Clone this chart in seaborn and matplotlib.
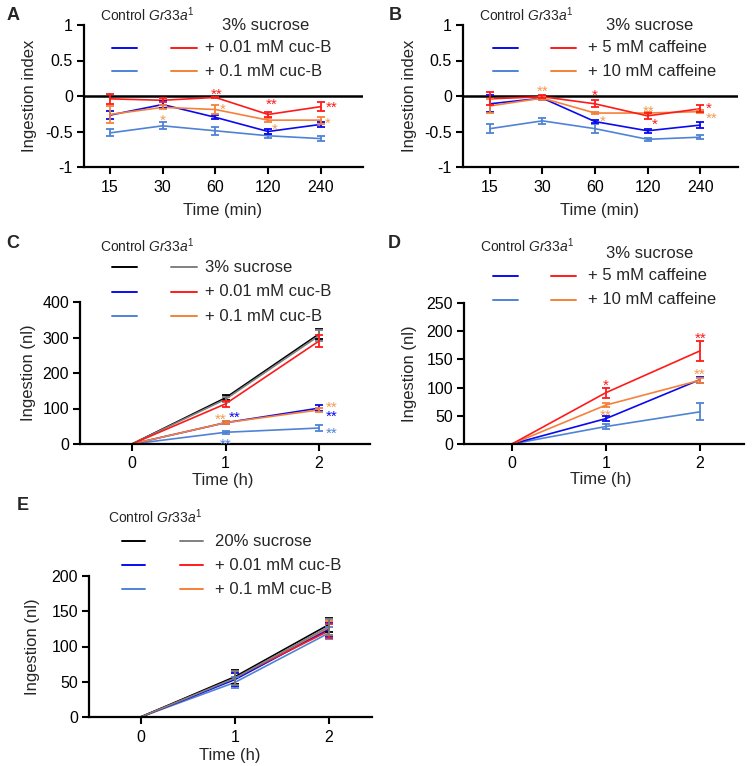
import numpy as np
import pandas as pd
import matplotlib
matplotlib.use("Agg")
import matplotlib.pyplot as plt
import seaborn as sns
from matplotlib.lines import Line2D

sns.set_theme(style="ticks")
plt.rcParams['font.family'] = ['Liberation Sans', 'DejaVu Sans']
plt.rcParams['mathtext.fontset'] = 'custom'
plt.rcParams['mathtext.rm'] = 'Liberation Sans'
plt.rcParams['mathtext.it'] = 'Liberation Sans:italic'
plt.rcParams['axes.unicode_minus'] = False

# ---------------- data ----------------
time_min = ["15", "30", "60", "120", "240"]
time_h = [0, 1, 2]

# Panel A: ingestion index, cuc-B
a_ctrl_cuc001 = [-0.27, -0.12, -0.30, -0.50, -0.40]
a_ctrl_cuc001_err = [0.06, 0.05, 0.03, 0.03, 0.04]
a_ctrl_cuc01 = [-0.52, -0.42, -0.49, -0.56, -0.60]
a_ctrl_cuc01_err = [0.05, 0.05, 0.06, 0.03, 0.03]
a_gr_cuc001 = [-0.04, -0.06, -0.02, -0.26, -0.15]
a_gr_cuc001_err = [0.07, 0.03, 0.01, 0.04, 0.06]
a_gr_cuc01 = [-0.26, -0.16, -0.19, -0.34, -0.34]
a_gr_cuc01_err = [0.12, 0.03, 0.07, 0.03, 0.05]

# Panel B: ingestion index, caffeine
b_ctrl_caf5 = [-0.11, -0.03, -0.36, -0.49, -0.41]
b_ctrl_caf5_err = [0.12, 0.02, 0.02, 0.03, 0.04]
b_ctrl_caf10 = [-0.46, -0.35, -0.46, -0.61, -0.58]
b_ctrl_caf10_err = [0.06, 0.04, 0.06, 0.02, 0.03]
b_gr_caf5 = [-0.04, -0.01, -0.11, -0.28, -0.18]
b_gr_caf5_err = [0.09, 0.02, 0.05, 0.04, 0.05]
b_gr_caf10 = [-0.14, -0.03, -0.24, -0.24, -0.22]
b_gr_caf10_err = [0.10, 0.02, 0.01, 0.02, 0.02]

# Panel C: ingestion (nl), cuc-B
c_ctrl_suc = [0, 130, 310]
c_ctrl_suc_err = [0, 7, 15]
c_ctrl_cuc001 = [0, 60, 101]
c_ctrl_cuc001_err = [0, 4, 9]
c_ctrl_cuc01 = [0, 33, 45]
c_ctrl_cuc01_err = [0, 4, 9]
c_gr_suc = [0, 126, 305]
c_gr_suc_err = [0, 7, 15]
c_gr_cuc001 = [0, 113, 290]
c_gr_cuc001_err = [0, 9, 16]
c_gr_cuc01 = [0, 60, 96]
c_gr_cuc01_err = [0, 5, 5]

# Panel D: ingestion (nl), caffeine
d_ctrl_caf5 = [0, 45, 114]
d_ctrl_caf5_err = [0, 5, 5]
d_ctrl_caf10 = [0, 31, 57]
d_ctrl_caf10_err = [0, 4, 15]
d_gr_caf5 = [0, 91, 165]
d_gr_caf5_err = [0, 9, 18]
d_gr_caf10 = [0, 69, 113]
d_gr_caf10_err = [0, 3, 4]

# Panel E: ingestion (nl), 20% sucrose + cuc-B
e_ctrl_suc = [0, 57, 131]
e_ctrl_suc_err = [0, 10, 10]
e_ctrl_cuc001 = [0, 53, 124]
e_ctrl_cuc001_err = [0, 9, 10]
e_ctrl_cuc01 = [0, 49, 119]
e_ctrl_cuc01_err = [0, 8, 9]
e_gr_suc = [0, 55, 128]
e_gr_suc_err = [0, 10, 11]
e_gr_cuc001 = [0, 56, 122]
e_gr_cuc001_err = [0, 9, 10]
e_gr_cuc01 = [0, 54, 126]
e_gr_cuc01_err = [0, 9, 10]

# significance stars: (x position, y value, text, color key)
a_stars = [(2.02, 0.075, "**", "red"), (3.06, -0.066, "**", "red"), (4.21, -0.104, "**", "red"),
           (2.14, -0.127, "*", "ostar"), (1.01, -0.29, "*", "ostar"),
           (3.13, -0.41, "*", "ostar"), (4.14, -0.33, "*", "ostar")]
b_stars = [(1.0, 0.12, "**", "ostar"), (2.0, 0.06, "*", "red"), (2.15, -0.30, "*", "ostar"),
           (3.02, -0.16, "**", "ostar"), (3.14, -0.34, "*", "red"),
           (4.16, -0.12, "*", "red"), (4.22, -0.26, "**", "ostar")]
c_stars = [(0.95, 80, "**", "ostar"), (1.10, 85, "**", "blue"), (1.0, 11, "**", "lblue"),
           (2.14, 115, "**", "ostar"), (2.14, 89, "**", "blue"), (2.14, 42, "**", "lblue")]
d_stars = [(1.0, 111, "*", "red"), (1.0, 57, "**", "ostar"),
           (2.01, 195, "**", "red"), (2.0, 131, "**", "ostar")]

COL = {"black": "#000000", "gray": "#808080", "blue": "#0a0af0", "lblue": "#4f83d6",
       "red": "#ff1a1a", "orange": "#f5813a", "ostar": "#f29a55"}

W, H = 753, 766
fig = plt.figure(figsize=(W / 100, H / 100), dpi=100)

def fx(x):
    return x / W

def fy(y):
    return 1 - y / H

def make_ax(l, r, t, b):
    return fig.add_axes([fx(l), fy(b), (r - l) / W, (b - t) / H])

def style_ax(ax):
    sns.despine(ax=ax)
    for s in ("left", "bottom"):
        ax.spines[s].set_linewidth(1.6)
        ax.spines[s].set_color("black")
    ax.tick_params(axis="both", which="major", direction="out", length=5, width=1.5,
                   colors="black", labelsize=11.5)
    ax.tick_params(axis="x", pad=4)
    ax.tick_params(axis="y", pad=3)
    ax.set_facecolor("white")

def set_labels(ax, xl, yl, xpos, ypos):
    ax.set_xlabel(xl, fontsize=12)
    ax.set_ylabel(yl, fontsize=12)
    ax.xaxis.label.set_va("center")
    ax.yaxis.label.set_va("center")
    ax.xaxis.set_label_coords(*xpos)
    ax.yaxis.set_label_coords(*ypos)

def draw_series(ax, x, series, lw=1.2):
    rows = []
    for name, (vals, errs, ckey) in series.items():
        for xi, v in zip(x, vals):
            rows.append({"x": xi, "value": v, "series": name})
    df = pd.DataFrame(rows)
    pal = {name: COL[c] for name, (v, e, c) in series.items()}
    sns.lineplot(data=df, x="x", y="value", hue="series", palette=pal, legend=False,
                 linewidth=lw, ax=ax, errorbar=None, hue_order=list(series.keys()))
    for name, (vals, errs, ckey) in series.items():
        xs = [xi for xi, e in zip(x, errs) if e > 0]
        vs = [v for v, e in zip(vals, errs) if e > 0]
        es = [e for e in errs if e > 0]
        ax.errorbar(xs, vs, yerr=es, fmt="none", ecolor=COL[ckey], elinewidth=1.3,
                    capsize=3, capthick=1.3, zorder=3)

def draw_stars(ax, stars):
    for x, y, t, c in stars:
        ax.annotate(t, (x, y), xytext=(0, -6), textcoords="offset points",
                    ha="center", va="baseline", fontsize=11, color=COL[c])

def header(x, y):
    fig.text(fx(x), fy(y), r"Control $\mathit{Gr33a}^{\mathrm{1}}$", fontsize=10,
             ha="left", va="center")

def legend_row(y, l1, l2, tx, c1, c2, text):
    if c1 is not None:
        fig.add_artist(Line2D([fx(l1[0]), fx(l1[1])], [fy(y), fy(y)], color=COL[c1],
                              lw=1.4, transform=fig.transFigure))
    if c2 is not None:
        fig.add_artist(Line2D([fx(l2[0]), fx(l2[1])], [fy(y), fy(y)], color=COL[c2],
                              lw=1.4, transform=fig.transFigure))
    fig.text(fx(tx), fy(y), text, fontsize=12, ha="left", va="center")

def panel_letter(x, y, s):
    fig.text(fx(x), fy(y), s, fontsize=13, fontweight="bold", ha="center", va="center")

# ---------------- Panel A ----------------
axA = make_ax(84, 363, 25, 167)
xA = list(range(len(time_min)))
draw_series(axA, xA, {
    "ctrl_cuc01": (a_ctrl_cuc01, a_ctrl_cuc01_err, "lblue"),
    "ctrl_cuc001": (a_ctrl_cuc001, a_ctrl_cuc001_err, "blue"),
    "gr_cuc01": (a_gr_cuc01, a_gr_cuc01_err, "orange"),
    "gr_cuc001": (a_gr_cuc001, a_gr_cuc001_err, "red"),
})
axA.axhline(0, color="black", lw=1.8, zorder=1)
axA.set_xlim(-0.49, 4.80)
axA.set_ylim(-1, 1)
axA.set_xticks(xA)
axA.set_xticklabels(time_min)
axA.set_yticks([-1, -0.5, 0, 0.5, 1])
axA.set_yticklabels(["-1", "-0.5", "0", "0.5", "1"])
style_ax(axA)
set_labels(axA, "Time (min)", "Ingestion index", (0.496, -0.303), (-0.194, 0.5))
draw_stars(axA, a_stars)

# ---------------- Panel B ----------------
axB = make_ax(463, 738, 25, 167)
draw_series(axB, xA, {
    "ctrl_caf10": (b_ctrl_caf10, b_ctrl_caf10_err, "lblue"),
    "ctrl_caf5": (b_ctrl_caf5, b_ctrl_caf5_err, "blue"),
    "gr_caf10": (b_gr_caf10, b_gr_caf10_err, "orange"),
    "gr_caf5": (b_gr_caf5, b_gr_caf5_err, "red"),
})
axB.axhline(0, color="black", lw=1.8, zorder=1)
axB.set_xlim(-0.51, 4.72)
axB.set_ylim(-1, 1)
axB.set_xticks(xA)
axB.set_xticklabels(time_min)
axB.set_yticks([-1, -0.5, 0, 0.5, 1])
axB.set_yticklabels(["-1", "-0.5", "0", "0.5", "1"])
style_ax(axB)
set_labels(axB, "Time (min)", "Ingestion index", (0.496, -0.303), (-0.196, 0.5))
draw_stars(axB, b_stars)

# ---------------- Panel C ----------------
axC = make_ax(80, 370, 302, 444)
draw_series(axC, time_h, {
    "ctrl_cuc01": (c_ctrl_cuc01, c_ctrl_cuc01_err, "lblue"),
    "ctrl_cuc001": (c_ctrl_cuc001, c_ctrl_cuc001_err, "blue"),
    "gr_cuc01": (c_gr_cuc01, c_gr_cuc01_err, "orange"),
    "ctrl_suc": (c_ctrl_suc, c_ctrl_suc_err, "black"),
    "gr_suc": (c_gr_suc, c_gr_suc_err, "gray"),
    "gr_cuc001": (c_gr_cuc001, c_gr_cuc001_err, "red"),
})
axC.set_xlim(-0.556, 2.545)
axC.set_ylim(0, 400)
axC.set_xticks(time_h)
axC.set_yticks([0, 100, 200, 300, 400])
style_ax(axC)
set_labels(axC, "Time (h)", "Ingestion (nl)", (0.493, -0.254), (-0.179, 0.5))
draw_stars(axC, c_stars)

# ---------------- Panel D ----------------
axD = make_ax(464, 744, 303, 444)
draw_series(axD, time_h, {
    "ctrl_caf10": (d_ctrl_caf10, d_ctrl_caf10_err, "lblue"),
    "ctrl_caf5": (d_ctrl_caf5, d_ctrl_caf5_err, "blue"),
    "gr_caf10": (d_gr_caf10, d_gr_caf10_err, "orange"),
    "gr_caf5": (d_gr_caf5, d_gr_caf5_err, "red"),
})
axD.set_xlim(-0.51, 2.47)
axD.set_ylim(0, 250)
axD.set_xticks(time_h)
axD.set_yticks([0, 50, 100, 150, 200, 250])
style_ax(axD)
set_labels(axD, "Time (h)", "Ingestion (nl)", (0.49, -0.25), (-0.196, 0.5))
draw_stars(axD, d_stars)

# ---------------- Panel E ----------------
axE = make_ax(89, 372, 576, 717)
draw_series(axE, time_h, {
    "ctrl_cuc01": (e_ctrl_cuc01, e_ctrl_cuc01_err, "lblue"),
    "gr_cuc01": (e_gr_cuc01, e_gr_cuc01_err, "orange"),
    "ctrl_cuc001": (e_ctrl_cuc001, e_ctrl_cuc001_err, "blue"),
    "gr_cuc001": (e_gr_cuc001, e_gr_cuc001_err, "red"),
    "ctrl_suc": (e_ctrl_suc, e_ctrl_suc_err, "black"),
    "gr_suc": (e_gr_suc, e_gr_suc_err, "gray"),
})
axE.set_xlim(-0.55, 2.46)
axE.set_ylim(0, 200)
axE.set_xticks(time_h)
axE.set_yticks([0, 50, 100, 150, 200])
style_ax(axE)
set_labels(axE, "Time (h)", "Ingestion (nl)", (0.498, -0.27), (-0.198, 0.5))

# ---------------- legends / headers ----------------
L1, L2 = (112, 137), (171, 197)
R1, R2 = (493, 518), (551, 576)

panel_letter(13, 16, "A")
header(100, 15)
fig.text(fx(222), fy(25), "3% sucrose", fontsize=12, ha="left", va="center")
legend_row(48, L1, L2, 205, "blue", "red", "+ 0.01 mM cuc-B")
legend_row(71, L1, L2, 205, "lblue", "orange", "+ 0.1 mM cuc-B")

panel_letter(395, 16, "B")
header(479, 15)
fig.text(fx(606), fy(25), "3% sucrose", fontsize=12, ha="left", va="center")
legend_row(48, R1, R2, 588, "blue", "red", "+ 5 mM caffeine")
legend_row(71, R1, R2, 588, "lblue", "orange", "+ 10 mM caffeine")

panel_letter(13, 243, "C")
header(100, 246)
legend_row(267, L1, L2, 205, "black", "gray", "3% sucrose")
legend_row(292, L1, L2, 205, "blue", "red", "+ 0.01 mM cuc-B")
legend_row(316, L1, L2, 205, "lblue", "orange", "+ 0.1 mM cuc-B")

panel_letter(394, 243, "D")
header(480, 246)
fig.text(fx(606), fy(254), "3% sucrose", fontsize=12, ha="left", va="center")
legend_row(276, R1, R2, 588, "blue", "red", "+ 5 mM caffeine")
legend_row(300, R1, R2, 588, "lblue", "orange", "+ 10 mM caffeine")

panel_letter(23, 506, "E")
header(108, 517)
legend_row(541, (122, 145), (180, 203), 215, "black", "gray", "20% sucrose")
legend_row(565, (122, 145), (180, 203), 215, "blue", "red", "+ 0.01 mM cuc-B")
legend_row(589, (122, 145), (180, 203), 215, "lblue", "orange", "+ 0.1 mM cuc-B")

fig.savefig("out.png", dpi=100, facecolor="white")
